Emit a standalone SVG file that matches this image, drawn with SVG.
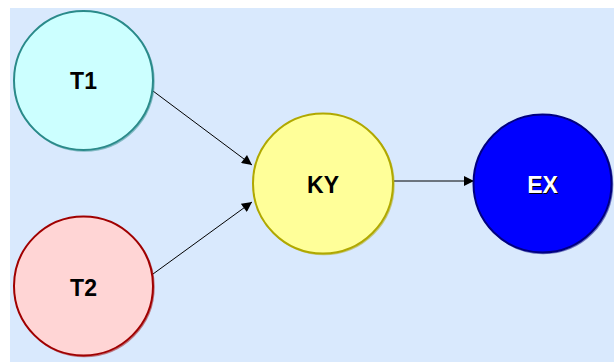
<svg xmlns="http://www.w3.org/2000/svg" width="614" height="362" viewBox="0 0 614 362">
<defs>
<style>
.n{stroke-width:2}
.sh{fill:none;stroke-width:1.5;opacity:0.5}
.lbl{font-family:"Liberation Sans",Arial,sans-serif;font-size:23px;font-weight:bold;text-anchor:middle;dominant-baseline:central}
.c{stroke:#000;stroke-width:1;fill:none}
</style>
<marker id="ah" viewBox="0 0 10 10" refX="10" refY="5" markerWidth="11" markerHeight="10" orient="auto" markerUnits="userSpaceOnUse">
<path d="M0,0 L10,5 L0,10 z" fill="#000"/>
</marker>
</defs>
<rect x="0" y="0" width="614" height="362" fill="#fff"/>
<rect x="10" y="8" width="604" height="354" fill="#d9e9fd"/>
<g id="connectors">
<line class="c" x1="153" y1="91" x2="252" y2="165" marker-end="url(#ah)"/>
<line class="c" x1="153" y1="274" x2="252" y2="202" marker-end="url(#ah)"/>
<line class="c" x1="394" y1="181" x2="474" y2="181" marker-end="url(#ah)"/>
</g>
<g id="T1">
<circle cx="84.5" cy="81.5" r="69.5" class="sh" stroke="#2a8a8a"/>
<circle cx="83.5" cy="80.5" r="69.5" class="n" fill="#ccffff" stroke="#2a8a8a"/>
<text class="lbl" x="83.5" y="81" fill="#000">T1</text>
</g>
<g id="T2">
<circle cx="84.5" cy="287" r="69.5" class="sh" stroke="#a00000"/>
<circle cx="83.5" cy="286" r="69.5" class="n" fill="#ffd5d5" stroke="#a00000"/>
<text class="lbl" x="83.5" y="288" fill="#000">T2</text>
</g>
<g id="KY">
<circle cx="324" cy="184.5" r="70" class="sh" stroke="#b0a800"/>
<circle cx="323" cy="183.5" r="70" class="n" fill="#ffff99" stroke="#b0a800"/>
<text class="lbl" x="323" y="185" fill="#000">KY</text>
</g>
<g id="EX">
<circle cx="543.5" cy="184.5" r="69" class="sh" stroke="#000080"/>
<circle cx="542.5" cy="183.5" r="69" class="n" fill="#0000ff" stroke="#000080"/>
<text class="lbl" x="543.5" y="186" fill="#000">EX</text>
<text class="lbl" x="542.5" y="185" fill="#fff">EX</text>
</g>
</svg>
